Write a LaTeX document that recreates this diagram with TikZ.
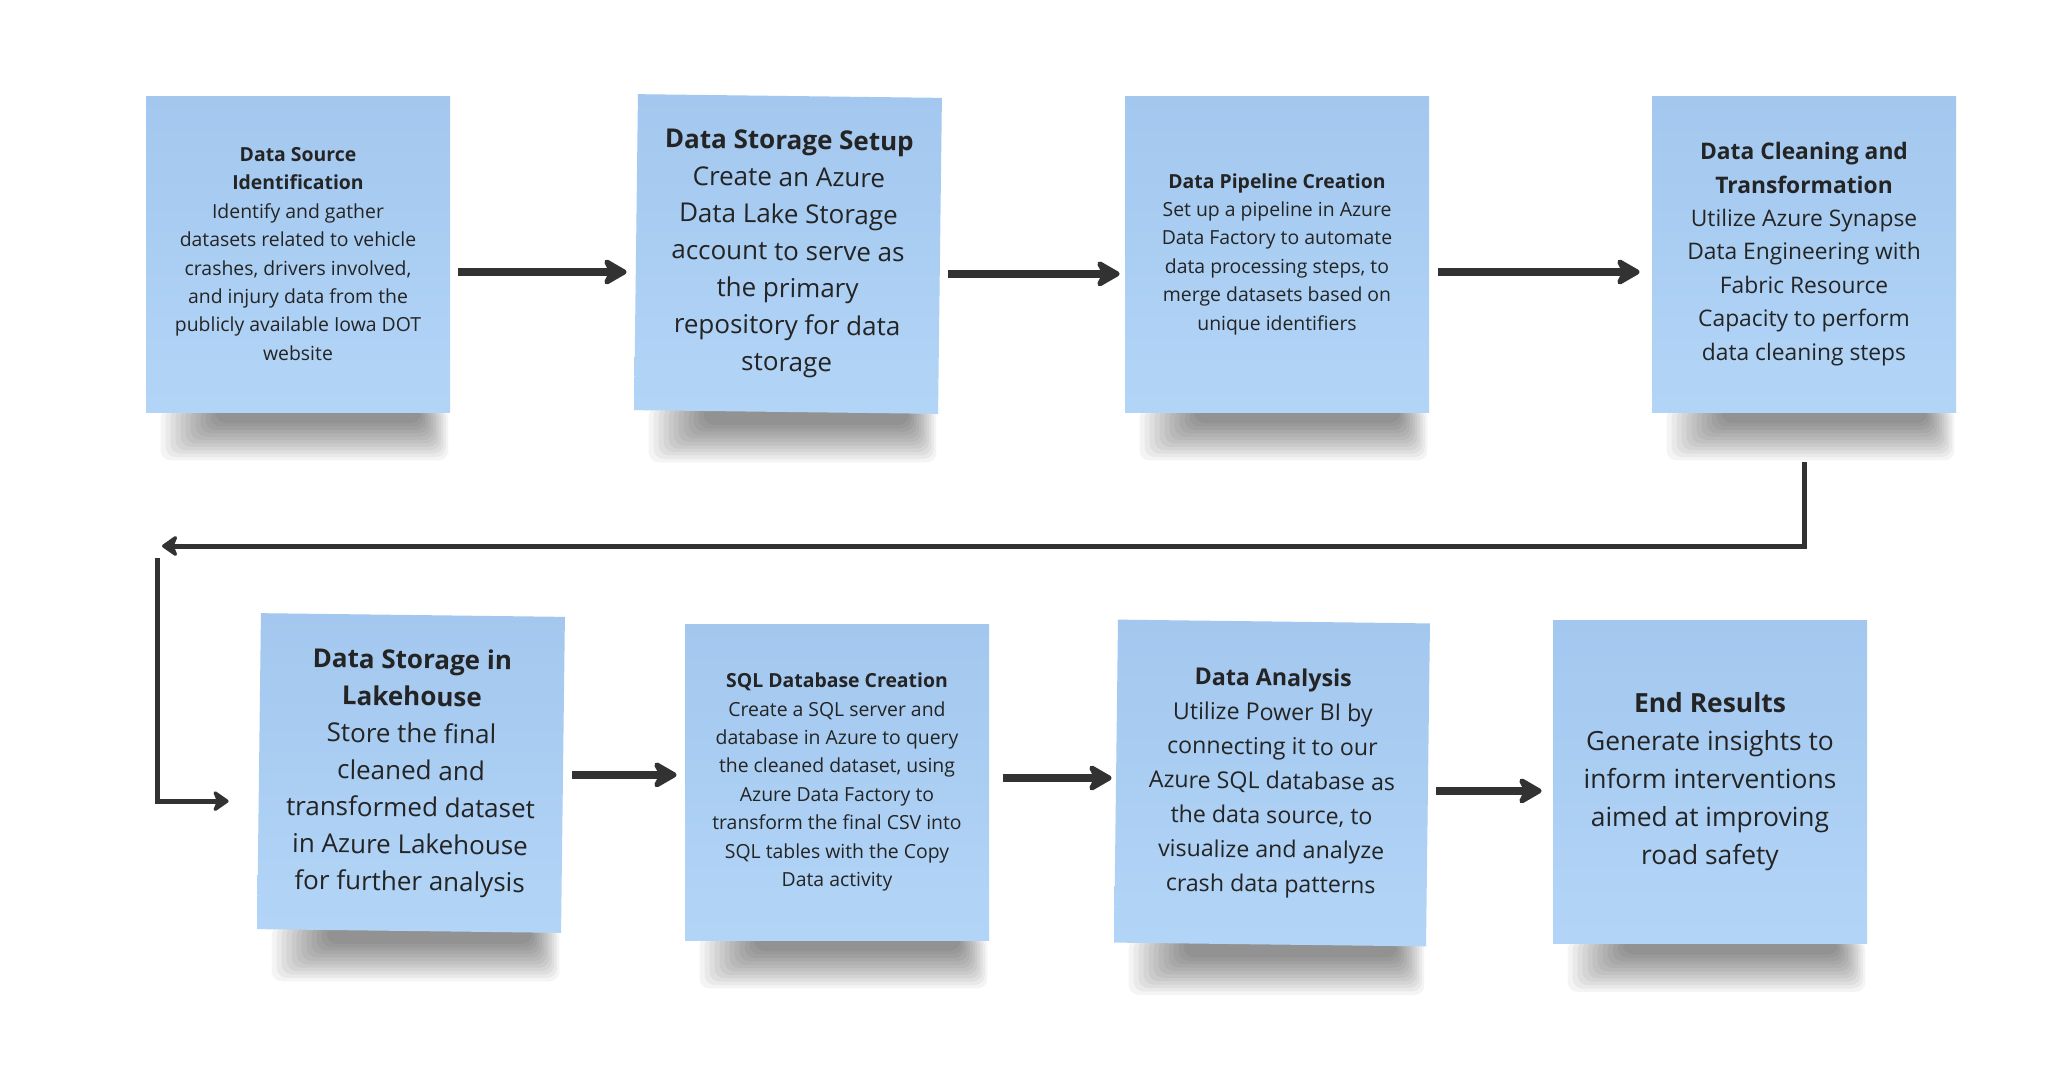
\documentclass[tikz,border=0pt]{standalone}
\usepackage{fontspec}
\setmainfont{Open Sans}
\usetikzlibrary{arrows.meta,calc,backgrounds}

\definecolor{notetop}{RGB}{163,199,238}
\definecolor{notebot}{RGB}{178,213,247}
\definecolor{ink}{RGB}{36,36,36}
\definecolor{arrowc}{RGB}{50,50,50}

\tikzset{
  note/.style={minimum width=152pt, minimum height=158pt, inner sep=0pt,
    align=center, text=ink, top color=notetop, bottom color=notebot},
  smalltxt/.style={font=\fontsize{9.7}{14.2}\selectfont},
  midtxt/.style={font=\fontsize{11.4}{16.7}\selectfont},
  bigtxt/.style={font=\fontsize{13}{18.5}\selectfont},
  flow/.style={arrowc, line width=4pt,
    -{Stealth[length=14pt,width=16pt,inset=4pt,round]}},
  link/.style={arrowc, line width=2.5pt,
    -{Stealth[length=9pt,width=12.5pt,inset=2.5pt,round]}},
}

\begin{document}
\begin{tikzpicture}[x=0.5pt,y=-0.5pt]
  \useasboundingbox (0,0) rectangle (2046,1066);

  % top row
  \node[note, smalltxt] (b1) at (298,254)
    {\textbf{Data Source}\\ \textbf{Identification}\\ Identify and gather\\
     datasets related to vehicle\\ crashes, drivers involved,\\
     and injury data from the\\ publicly available Iowa DOT\\ website};
  \node[note, bigtxt, rotate=-0.7] (b2) at (788,254)
    {\textbf{Data Storage Setup}\\ Create an Azure\\ Data Lake Storage\\
     account to serve as\\ the primary\\ repository for data\\ storage};
  \node[note, smalltxt] (b3) at (1277,254)
    {\textbf{Data Pipeline Creation}\\ Set up a pipeline in Azure\\
     Data Factory to automate\\ data processing steps, to\\
     merge datasets based on\\ unique identifiers};
  \node[note, midtxt] (b4) at (1804,254)
    {\textbf{Data Cleaning and}\\ \textbf{Transformation}\\
     Utilize Azure Synapse\\ Data Engineering with\\ Fabric Resource\\
     Capacity to perform\\ data cleaning steps};

  % bottom row
  \node[note, bigtxt, rotate=-0.7] (b5) at (411,773)
    {\textbf{Data Storage in}\\ \textbf{Lakehouse}\\ Store the final\\
     cleaned and\\ transformed dataset\\ in Azure Lakehouse\\ for further analysis};
  \node[note, smalltxt] (b6) at (837,782)
    {\textbf{SQL Database Creation}\\ Create a SQL server and\\
     database in Azure to query\\ the cleaned dataset, using\\
     Azure Data Factory to\\ transform the final CSV into\\
     SQL tables with the Copy\\ Data activity};
  \node[note, font=\fontsize{11.6}{17.2}\selectfont, rotate=-0.7,
    minimum width=156pt, minimum height=161.5pt] (b7) at (1272,783)
    {\textbf{Data Analysis}\\ Utilize Power BI by\\ connecting it to our\\
     Azure SQL database as\\ the data source, to\\ visualize and analyze\\
     crash data patterns};
  \node[note, font=\fontsize{13.2}{19}\selectfont,
    minimum width=157pt, minimum height=161.5pt] (b8) at (1710,782)
    {\textbf{End Results}\\ Generate insights to\\ inform interventions\\
     aimed at improving\\ road safety};

  % soft shadows under the notes
  \begin{scope}[on background layer]
    \fill[white] (0,0) rectangle (2046,1066);
    \foreach \k in {1,...,8}
      \foreach \i in {0,...,11}
        \fill[black, opacity=0.045, rounded corners=5pt]
          ($(b\k.south west)+(15+5*\i,-4)$) rectangle
          ($(b\k.south east)+(-2-2.5*\i,48-3.4*\i)$);
  \end{scope}

  % arrows between notes
  \draw[flow, shorten <=4pt, shorten >=4.5pt]
    ([yshift=-9pt]b1.east) -- ([yshift=-9pt]b1.east -| b2.west);
  \draw[flow, shorten <=4pt, shorten >=2.5pt]
    ([yshift=-9pt]b2.east) -- ([yshift=-9pt]b2.east -| b3.west);
  \draw[flow, shorten <=4.5pt, shorten >=6pt]
    ([yshift=-9pt]b3.east) -- ([yshift=-9pt]b3.east -| b4.west);
  \draw[flow, shorten <=4.5pt, shorten >=4pt] (b5.east) -- (b5.east -| b6.west);
  \draw[flow, shorten <=7pt, shorten >=2pt]
    ([yshift=2pt]b6.east) -- ([yshift=2pt]b6.east -| b7.west);
  \draw[flow, shorten <=4pt, shorten >=5.5pt]
    ([yshift=-3pt]b7.east) -- ([yshift=-3pt]b7.east -| b8.west);

  % return line to the second row
  \coordinate (turnA) at (162,546);
  \coordinate (turnB) at (157,558);
  \draw[link] ([yshift=-25pt]b4.south) |- (turnA);
  \draw[link, shorten >=15pt] (turnB) |- ([yshift=-15pt]b5.west);
\end{tikzpicture}
\end{document}
